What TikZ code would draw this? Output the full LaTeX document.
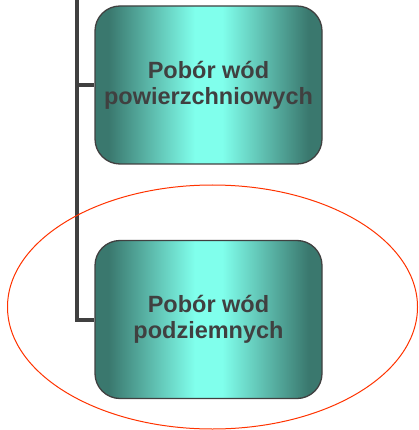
\documentclass[tikz,border=0pt]{standalone}
\usepackage{fontspec}
\setmainfont{Liberation Sans}
\usetikzlibrary{shapes.geometric}
\definecolor{tealdark}{RGB}{58,120,110}
\definecolor{tealbright}{RGB}{128,255,236}
\definecolor{linegray}{RGB}{64,64,64}
\definecolor{ringred}{RGB}{255,51,0}
\pgfdeclarehorizontalshading{tealband}{100bp}{%
  color(0bp)=(tealdark); color(28bp)=(tealdark); color(47bp)=(tealbright);
  color(53bp)=(tealbright); color(72bp)=(tealdark); color(100bp)=(tealdark)}
\begin{document}
\begin{tikzpicture}[x=1pt,y=-1pt,
  tealbox/.style={draw=linegray, line width=1.3pt, rounded corners=25pt,
    shading=tealband,
    minimum width=227pt, minimum height=158pt, align=center,
    text=linegray, font=\fontsize{23.5}{26}\selectfont\bfseries, inner sep=0pt},
  conn/.style={draw=linegray, line width=4pt},
  ring/.style={draw=ringred, line width=1pt, ellipse, minimum width=410pt, minimum height=244pt, inner sep=0pt}]
\useasboundingbox (0,0) rectangle (419,430);
\node[tealbox] (b1) at (208.5,85) {Pobór wód\\powierzchniowych};
\node[tealbox] (b2) at (208.5,319.5) {Pobór wód\\podziemnych};
\coordinate (top) at (77,-2);
\draw[conn] (top) |- (b2.west);
\draw[conn] (top |- b1.west) -- (b1.west);
\node[ring] (e) at (212.5,307) {};
\end{tikzpicture}
\end{document}
